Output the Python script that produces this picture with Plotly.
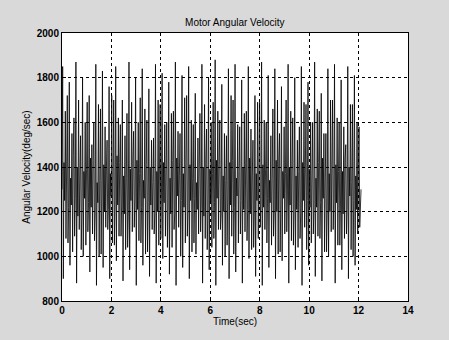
import numpy as np
import plotly.graph_objects as go

# per-cycle values (deg/sec)
peaks = [1850,1780,1870,1800,1720,1860,1830,1760,1850,1700,1870,1800,1840,1750,1860,
         1820,1780,1870,1810,1850,1730,1860,1800,1880,1770,1840,1860,1790,1850,1720,
         1870,1810,1840,1760,1860,1800,1850,1780,1870,1730,1840,1860,1790,1850,1810]
troughs = [900,960,880,1000,930,870,950,900,980,890,940,870,960,910,880,
           990,920,870,950,900,1010,880,940,870,960,900,930,880,990,910,
           870,950,900,980,880,940,870,960,910,890,1000,880,940,900,960]
sec_peaks = [1650,1550,1700,1600,1500,1680,1580,1720,1620,1540,1690,1600,1660,1520,1700,
             1590,1640,1560,1710,1610,1530,1680,1600,1650,1550,1720,1590,1640,1570,1690,
             1610,1540,1700,1580,1650,1520,1690,1600,1660,1550,1700,1620,1580,1680,1600]
sec_troughs = [1080,1020,1120,1050,1100,1000,1130,1060,1090,1030,1110,1070,1010,1120,1050,
               1090,1040,1130,1060,1020,1100,1080,1040,1120,1000,1090,1060,1110,1030,1080,
               1120,1050,1010,1100,1070,1040,1130,1060,1090,1020,1110,1050,1080,1030,1100]
band_hi = [1420,1350,1400,1380,1440,1330,1410,1370,1450,1360,1390,1430,1340,1400,1380,
           1420,1350,1440,1370,1410,1330,1400,1390,1430,1360,1420,1350,1400,1440,1370,
           1410,1340,1430,1380,1400,1360,1420,1390,1350,1440,1370,1410,1380,1400,1360]
band_lo = [1220,1260,1200,1240,1190,1270,1210,1250,1230,1180,1260,1220,1240,1200,1270,
           1230,1190,1250,1210,1260,1230,1200,1240,1190,1270,1220,1250,1210,1180,1240,
           1260,1200,1230,1270,1210,1190,1250,1220,1240,1200,1260,1230,1210,1250,1220]
t_end = 12.1

x_ticks = [0, 2, 4, 6, 8, 10, 12, 14]
y_ticks = [800, 1000, 1200, 1400, 1600, 1800, 2000]

# interleave cycle values into the sampled signal
vals = [1300]
n = len(peaks)
for i in range(n):
    j = (i + 7) % n
    vals += [peaks[i], troughs[i], band_hi[i], band_lo[j], sec_peaks[i], sec_troughs[i],
             band_hi[j], sec_peaks[j], sec_troughs[j], band_lo[i]]
vals.append(1300)
t = np.linspace(0, t_end, len(vals))

fig = go.Figure(go.Scatter(x=t, y=vals, mode="lines",
                           line=dict(color="black", width=0.8), showlegend=False))

fnt = dict(family="Liberation Sans", size=10, color="black", weight="bold")
axis_common = dict(showline=True, linecolor="black", linewidth=1, mirror=True,
                   ticks="inside", ticklen=4, tickcolor="black",
                   showgrid=True, gridcolor="black", griddash="3px,3px", gridwidth=1,
                   zeroline=False, tickfont=fnt,
                   title_font=dict(family="Liberation Sans", size=10, color="black"))

fig.update_xaxes(range=[0, 14], tickvals=x_ticks, title_text="Time(sec)",
                 title_standoff=2, **axis_common)
fig.update_yaxes(range=[800, 2000], tickvals=y_ticks, title_text="Angular Velocity(deg/sec)",
                 title_standoff=4, **axis_common)

fig.update_layout(
    width=449, height=340,
    margin=dict(l=62, r=41, t=33, b=39),
    paper_bgcolor="#d9d9d9", plot_bgcolor="white",
    title=dict(text="Motor Angular Velocity", x=0.523, xanchor="center", y=0.935, yanchor="middle",
               font=dict(family="Liberation Sans", size=10, color="black")),
)

fig.write_html("out.html", config={"displayModeBar": False},
               post_script="document.body.style.margin='0';document.body.style.background='#d9d9d9';")
